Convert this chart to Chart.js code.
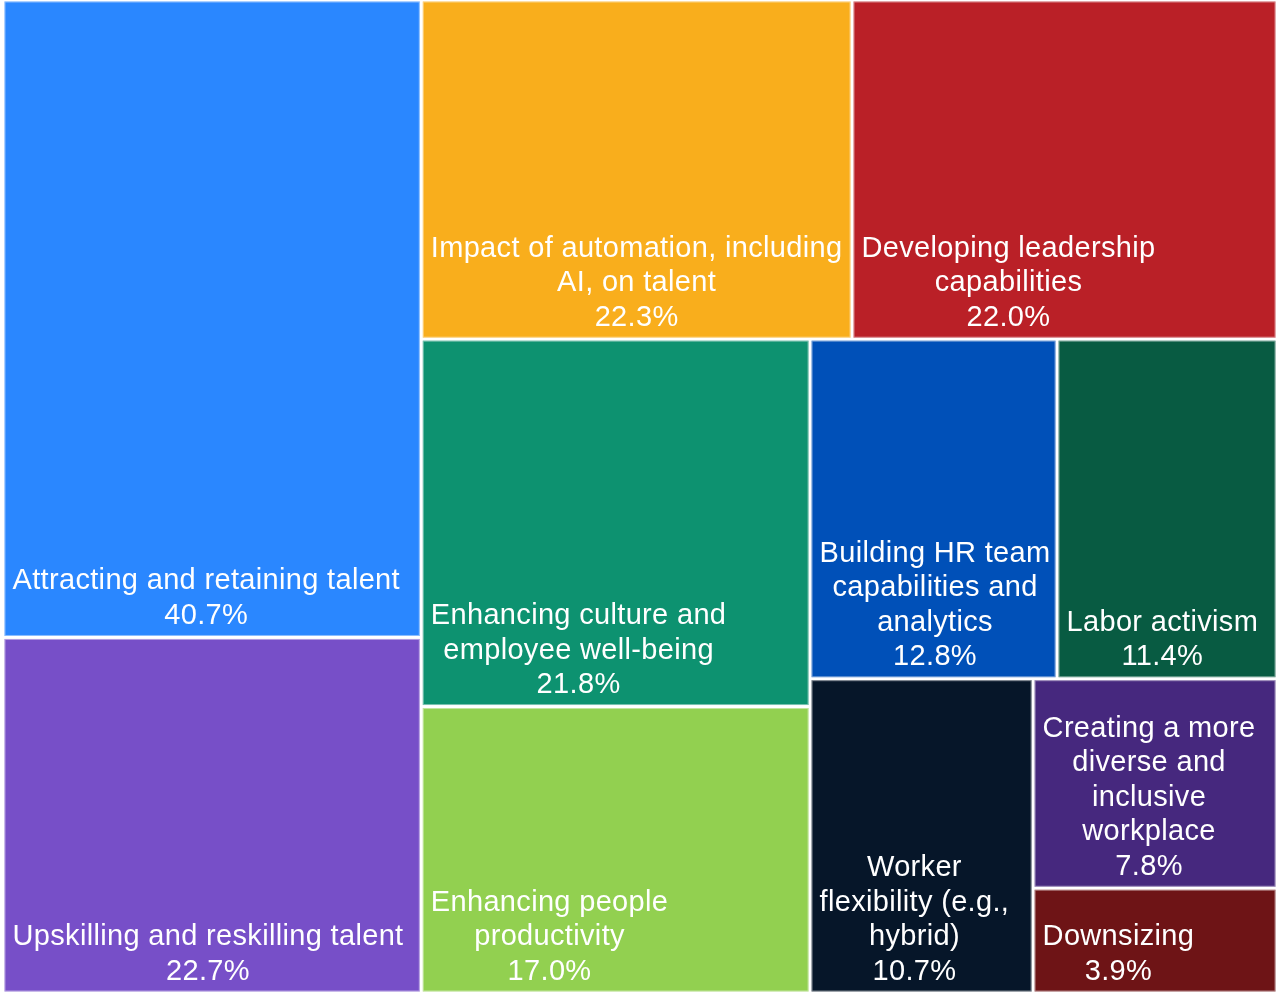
<!DOCTYPE html>
<html>
<head>
<meta charset="utf-8">
<script src="https://cdn.jsdelivr.net/npm/chart.js@4/dist/chart.umd.min.js"></script>
<style>
  html, body { margin: 0; padding: 0; background: #fff; }
  .chart-wrapper { width: 1279px; height: 994px; position: relative; }
</style>
</head>
<body>
<div class="chart-wrapper"><canvas id="tree-chart"></canvas></div>
<script>
// label lines per topic, shares in %, fill colours
const categories = [
  ['Attracting and retaining talent'],
  ['Upskilling and reskilling talent'],
  ['Impact of automation, including', 'AI, on talent'],
  ['Developing leadership', 'capabilities'],
  ['Enhancing culture and', 'employee well-being'],
  ['Enhancing people', 'productivity'],
  ['Building HR team', 'capabilities and', 'analytics'],
  ['Labor activism'],
  ['Worker', 'flexibility (e.g.,', 'hybrid)'],
  ['Creating a more', 'diverse and', 'inclusive', 'workplace'],
  ['Downsizing'],
];
const shares = [40.7, 22.7, 22.3, 22.0, 21.8, 17.0, 12.8, 11.4, 10.7, 7.8, 3.9];
const colors = [
  '#2A87FF', '#774FC8', '#F9AE1C', '#BA2027', '#0D9270', '#92D050',
  '#0050B8', '#085B42', '#061629', '#46287E', '#6E1416',
];

const FONT = '29px "Liberation Sans", Arial, sans-serif';
const LINE_H = 34.5;
const GAP = 1.5;

// squarified layout in a w x h box, returns rects in the same units
function squarify(values, w, h) {
  const total = values.reduce((a, b) => a + b, 0);
  const k = (w * h) / total;
  const items = values.map((v, i) => ({ i, a: v * k }));
  const rects = new Array(values.length);
  let x = 0, y = 0;

  const worst = (row, side) => {
    const s = row.reduce((a, r) => a + r.a, 0);
    const mx = Math.max(...row.map(r => r.a));
    const mn = Math.min(...row.map(r => r.a));
    return Math.max((side * side * mx) / (s * s), (s * s) / (side * side * mn));
  };

  while (items.length) {
    const side = Math.min(w, h);
    const row = [items.shift()];
    while (items.length && worst([...row, items[0]], side) <= worst(row, side)) {
      row.push(items.shift());
    }
    const s = row.reduce((a, r) => a + r.a, 0);
    if (w >= h) {
      const cw = s / h;
      let cy = y;
      row.forEach(r => { const ch = r.a / cw; rects[r.i] = { x, y: cy, w: cw, h: ch }; cy += ch; });
      x += cw; w -= cw;
    } else {
      const ch = s / w;
      let cx = x;
      row.forEach(r => { const cw = r.a / ch; rects[r.i] = { x: cx, y, w: cw, h: ch }; cx += cw; });
      y += ch; h -= ch;
    }
  }
  return rects;
}

const treemapPlugin = {
  id: 'treemapCells',
  afterDatasetsDraw(chart) {
    const { ctx, chartArea, scales } = chart;
    const aw = chartArea.right - chartArea.left;
    const ah = chartArea.bottom - chartArea.top;
    const rects = squarify(shares, aw, ah);

    ctx.save();
    rects.forEach((r, i) => {
      const left = scales.x.getPixelForValue(r.x / aw) + GAP;
      const right = scales.x.getPixelForValue((r.x + r.w) / aw) - GAP;
      const top = scales.y.getPixelForValue(r.y / ah) + GAP;
      const bottom = scales.y.getPixelForValue((r.y + r.h) / ah) - GAP;

      ctx.fillStyle = colors[i];
      ctx.fillRect(left, top, right - left, bottom - top);
      ctx.strokeStyle = 'rgba(255,255,255,0.45)';
      ctx.lineWidth = 1;
      ctx.strokeRect(left + 0.5, top + 0.5, right - left - 1, bottom - top - 1);

      // text block: left aligned in the cell, lines centred within it
      const lines = [...categories[i], shares[i].toFixed(1) + '%'];
      ctx.font = FONT;
      ctx.letterSpacing = '0.33px';
      const blockW = Math.max(...lines.map(l => ctx.measureText(l).width));
      const cx = left + 8 + blockW / 2;
      ctx.fillStyle = '#fff';
      ctx.textAlign = 'center';
      ctx.textBaseline = 'alphabetic';
      const lastBase = bottom - 12;
      lines.forEach((l, j) => {
        ctx.fillText(l, cx, lastBase - (lines.length - 1 - j) * LINE_H);
      });
    });
    ctx.restore();
  },
};

new Chart(document.getElementById('tree-chart'), {
  type: 'scatter',
  data: { datasets: [{ data: [], pointRadius: 0 }] },
  options: {
    responsive: true,
    maintainAspectRatio: false,
    animation: false,
    layout: { padding: { left: 3, right: 2, top: 0, bottom: 1 } },
    plugins: { legend: { display: false }, tooltip: { enabled: false } },
    scales: {
      x: { type: 'linear', min: 0, max: 1, display: false },
      y: { type: 'linear', min: 0, max: 1, reverse: true, display: false },
    },
  },
  plugins: [treemapPlugin],
});
</script>
</body>
</html>
